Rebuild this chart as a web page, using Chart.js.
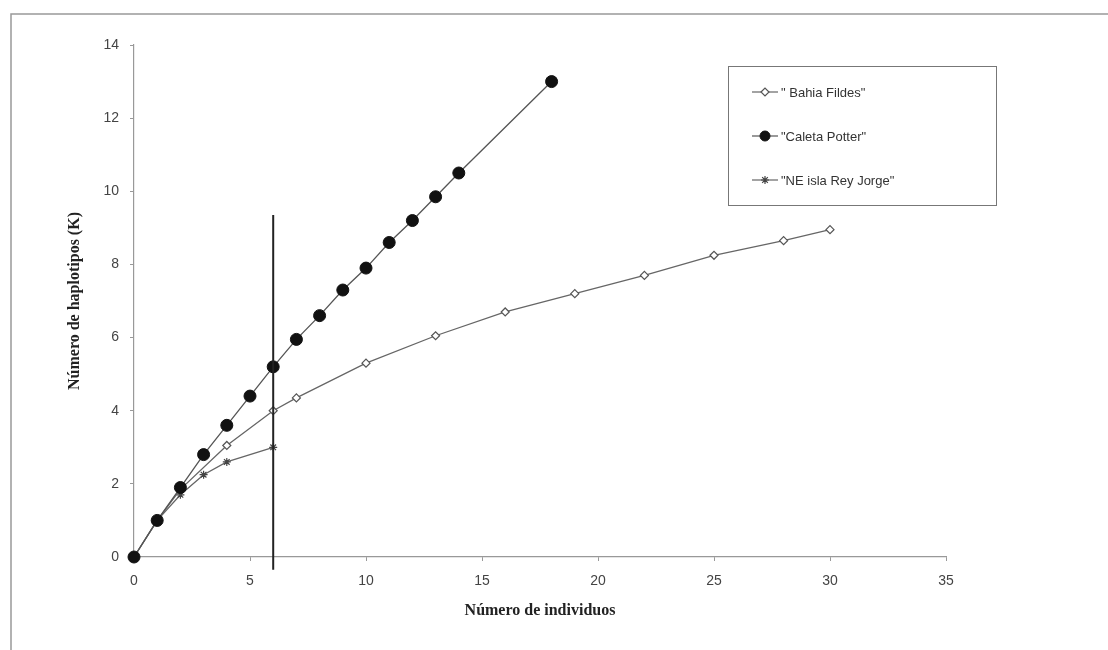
<!DOCTYPE html>
<html>
<head>
<meta charset="utf-8">
<script src="https://cdn.jsdelivr.net/npm/chart.js@4"></script>
<style>
  body { margin: 0; background: #fff; }
  #wrap { width: 1108px; height: 650px; position: relative; }
</style>
</head>
<body>
<div id="wrap"><canvas id="myChart"></canvas></div>
<script>
// Bahia Fildes (open diamonds)
const bahiaX = [0, 1, 2, 4, 6, 7, 10, 13, 16, 19, 22, 25, 28, 30]
const bahiaY = [0, 1, 1.85, 3.05, 4.0, 4.35, 5.3, 6.05, 6.7, 7.2, 7.7, 8.25, 8.65, 8.95]
// Caleta Potter (filled circles)
const caletaX = [0, 1, 2, 3, 4, 5, 6, 7, 8, 9, 10, 11, 12, 13, 14, 18]
const caletaY = [0, 1, 1.9, 2.8, 3.6, 4.4, 5.2, 5.95, 6.6, 7.3, 7.9, 8.6, 9.2, 9.85, 10.5, 13]
// NE isla Rey Jorge (stars)
const neX = [0, 1, 2, 3, 4, 6]
const neY = [0, 1, 1.7, 2.25, 2.6, 3.0]
// vertical reference line at 6 individuals
const refX = [6, 6]
const refY = [-0.35, 9.35]

const seriesLabels = ['" Bahia Fildes"', '"Caleta Potter"', '"NE isla Rey Jorge"']
const xTicks = [0, 5, 10, 15, 20, 25, 30, 35]
const yTicks = [0, 2, 4, 6, 8, 10, 12, 14]

const pts = (xs, ys) => xs.map((x, i) => ({ x: x, y: ys[i] }))

const ctx = document.getElementById('myChart')

// frame around the figure + custom legend box
const figurePlugin = {
  id: 'figure',
  beforeDraw(chart) {
    const c = chart.ctx
    c.save()
    c.fillStyle = '#fff'
    c.fillRect(0, 0, chart.width, chart.height)
    c.strokeStyle = '#999'
    c.lineWidth = 1.5
    c.beginPath()
    c.moveTo(11, 650)
    c.lineTo(11, 14)
    c.lineTo(1108, 14)
    c.stroke()
    c.restore()
  },
  afterDraw(chart) {
    const c = chart.ctx
    c.save()
    c.strokeStyle = '#777'
    c.lineWidth = 1
    c.strokeRect(728.5, 66.5, 268, 139)
    c.font = '13px "Liberation Sans", Arial, sans-serif'
    c.textBaseline = 'middle'
    for (let i = 0; i < 3; i++) {
      const ds = chart.data.datasets[i]
      const y = 92 + i * 44
      c.strokeStyle = ds.borderColor
      c.lineWidth = 1.2
      c.beginPath()
      c.moveTo(752, y)
      c.lineTo(778, y)
      c.stroke()
      c.fillStyle = ds.pointBackgroundColor
      c.strokeStyle = ds.pointBorderColor
      c.lineWidth = ds.pointBorderWidth
      Chart.helpers.drawPoint(c, {
        pointStyle: ds.pointStyle,
        radius: ds.pointRadius - (i === 1 ? 1 : 0),
        borderWidth: ds.pointBorderWidth,
        rotation: 0
      }, 765, y)
      c.fillStyle = '#333'
      c.fillText(ds.label, 781, y + 1)
    }
    c.restore()
  }
}

const mychart = new Chart(ctx, {
  type: 'scatter',
  data: {
    datasets: [{
      label: seriesLabels[0],
      data: pts(bahiaX, bahiaY),
      showLine: true,
      order: 1,
      clip: false,
      borderColor: '#666',
      borderWidth: 1.3,
      pointStyle: 'rectRot',
      pointRadius: 4,
      pointBackgroundColor: '#fff',
      pointBorderColor: '#555',
      pointBorderWidth: 1.2
    }, {
      label: seriesLabels[1],
      data: pts(caletaX, caletaY),
      showLine: true,
      order: 0,
      clip: false,
      borderColor: '#555',
      borderWidth: 1.3,
      pointStyle: 'circle',
      pointRadius: 6,
      pointBackgroundColor: '#111',
      pointBorderColor: '#111',
      pointBorderWidth: 1
    }, {
      label: seriesLabels[2],
      data: pts(neX, neY),
      showLine: true,
      order: 2,
      clip: false,
      borderColor: '#666',
      borderWidth: 1.3,
      pointStyle: 'star',
      pointRadius: 4,
      pointBackgroundColor: '#444',
      pointBorderColor: '#444',
      pointBorderWidth: 1.2
    }, {
      label: 'ref',
      data: pts(refX, refY),
      showLine: true,
      order: -1,
      borderColor: '#222',
      borderWidth: 2,
      pointRadius: 0,
      clip: false
    }]
  },
  options: {
    responsive: true,
    maintainAspectRatio: false,
    animation: false,
    layout: {
      padding: { left: 57, top: 45, right: 162, bottom: 20 }
    },
    plugins: {
      legend: { display: false },
      tooltip: { enabled: false }
    },
    scales: {
      x: {
        type: 'linear',
        min: 0,
        max: 35,
        afterBuildTicks: (s) => { s.ticks = xTicks.map(v => ({ value: v })) },
        afterFit: (s) => { s.height = 73 },
        grid: { drawOnChartArea: false, tickLength: 4, color: '#999' },
        border: { color: '#999', width: 1.2 },
        ticks: {
          padding: 12,
          color: '#444',
          font: { family: '"Liberation Sans", Arial, sans-serif', size: 14 }
        },
        title: {
          display: true,
          text: 'Número de individuos',
          color: '#222',
          padding: { top: 4, bottom: 10 },
          font: { family: '"Liberation Serif", "Times New Roman", serif', size: 16, weight: 'bold' }
        }
      },
      y: {
        type: 'linear',
        min: 0,
        max: 14,
        afterBuildTicks: (s) => { s.ticks = yTicks.map(v => ({ value: v })) },
        afterFit: (s) => { s.width = 77 },
        grid: { drawOnChartArea: false, tickLength: 4, color: '#999' },
        border: { color: '#999', width: 1.2 },
        ticks: {
          padding: 11,
          color: '#444',
          font: { family: '"Liberation Sans", Arial, sans-serif', size: 14 }
        },
        title: {
          display: true,
          text: 'Número de haplotipos (K)',
          color: '#222',
          padding: { top: 8, bottom: 4 },
          font: { family: '"Liberation Serif", "Times New Roman", serif', size: 16, weight: 'bold' }
        }
      }
    }
  },
  plugins: [figurePlugin]
})
</script>
</body>
</html>
